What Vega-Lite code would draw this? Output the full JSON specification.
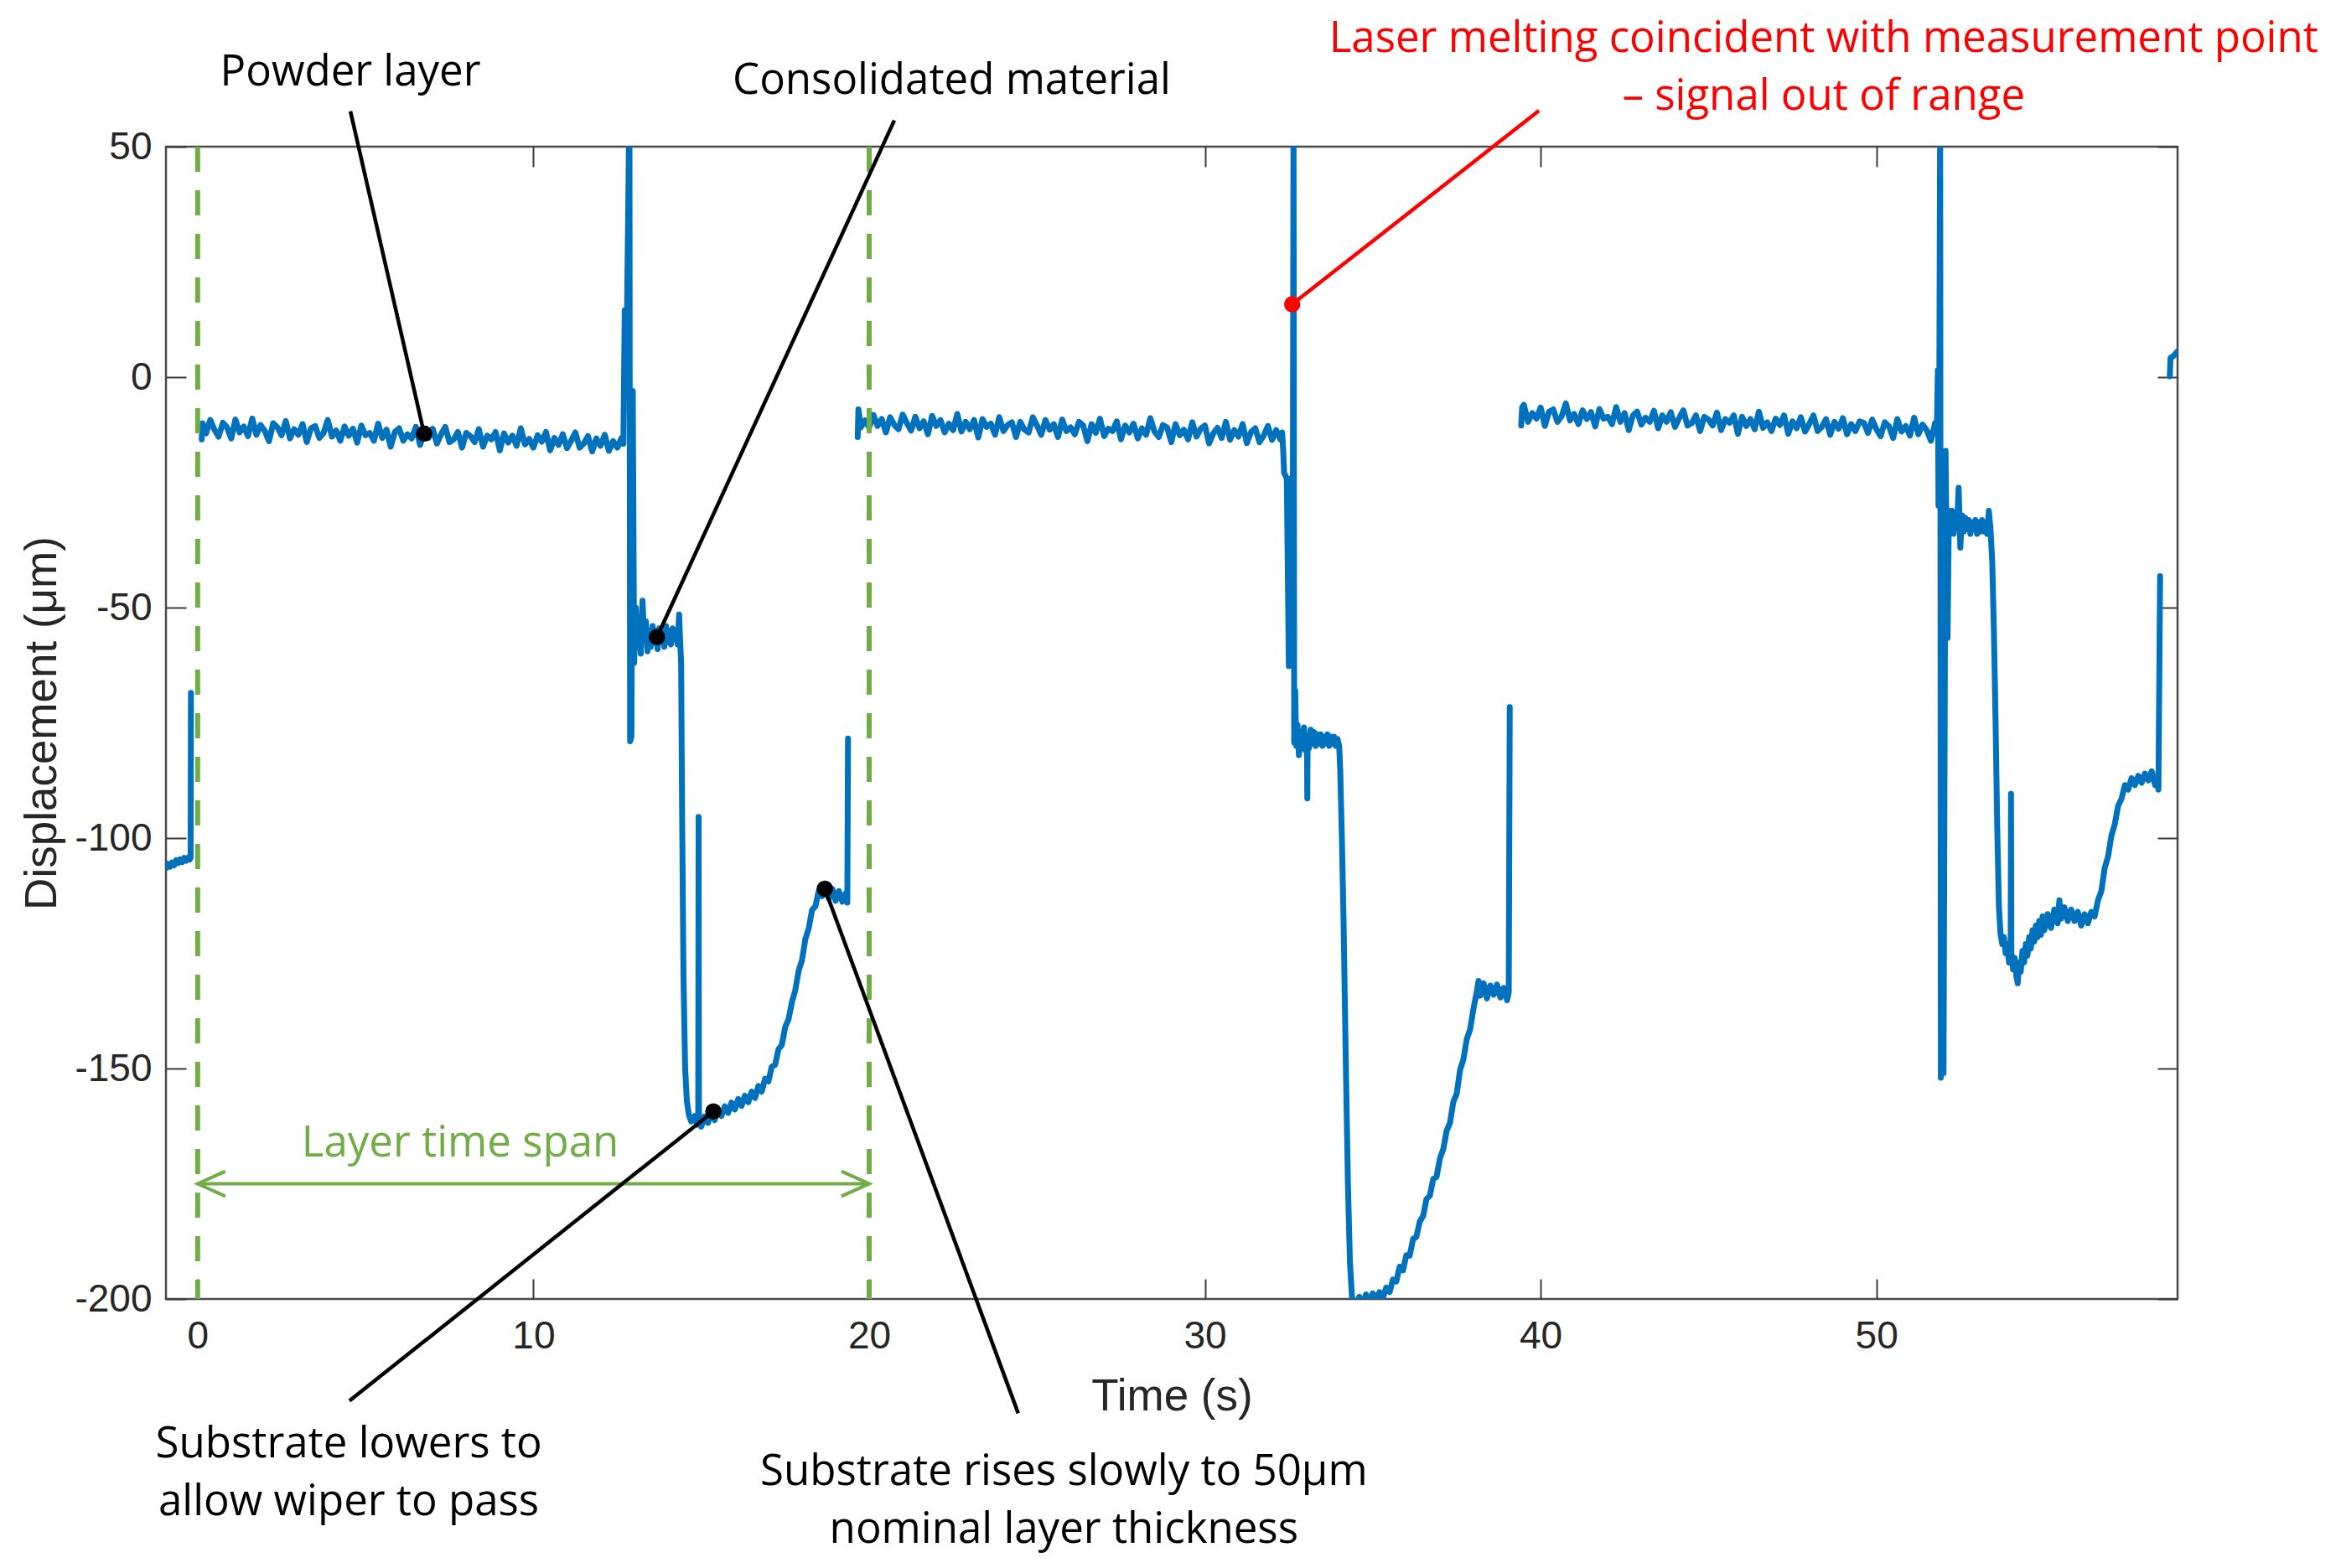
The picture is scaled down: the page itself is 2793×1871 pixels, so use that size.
{
"$schema":"https://vega.github.io/schema/vega-lite/v6.json",
"width":2400,"height":1375,
"autosize":{"type":"none"},
"padding":{"left":198,"top":175,"right":195,"bottom":321},
"background":"white",
"config":{"view":{"stroke":"#4a4a4a","strokeWidth":2.5},
"axis":{"grid":false,"domain":false,"tickSize":-24,"tickWidth":2,"tickColor":"#3a3a3a","labelFont":"Liberation Sans","labelFontSize":46,"labelColor":"#262626","titleFont":"Liberation Sans","titleFontSize":53,"titleFontWeight":"normal","titleColor":"#262626","labelOverlap":false,"labelFlush":false}},
"datasets":{
"sig":[
{"s":0,"t":-0.94,"y":-106.5},{"s":0,"t":-0.88,"y":-105.6},{"s":0,"t":-0.82,"y":-106.2},{"s":0,"t":-0.76,"y":-105.3},{"s":0,"t":-0.7,"y":-105.9},{"s":0,"t":-0.64,"y":-104.8},{"s":0,"t":-0.58,"y":-105.4},{"s":0,"t":-0.52,"y":-104.6},{"s":0,"t":-0.46,"y":-105.2},{"s":0,"t":-0.4,"y":-104.3},{"s":0,"t":-0.34,"y":-104.9},{"s":0,"t":-0.28,"y":-104.2},{"s":0,"t":-0.24,"y":-104.7},{"s":0,"t":-0.21,"y":-104.3},{"s":0,"t":-0.2,"y":-68.5},
{"s":1,"t":0.12,"y":-13.5},{"s":1,"t":0.15,"y":-10.0},{"s":1,"t":0.25,"y":-12.2},{"s":1,"t":0.375,"y":-9.3},{"s":1,"t":0.5,"y":-11.4},{"s":1,"t":0.625,"y":-12.9},{"s":1,"t":0.75,"y":-9.9},{"s":1,"t":0.875,"y":-10.9},{"s":1,"t":1.0,"y":-13.3},{"s":1,"t":1.125,"y":-9.2},{"s":1,"t":1.25,"y":-12.0},{"s":1,"t":1.375,"y":-10.7},{"s":1,"t":1.5,"y":-12.8},{"s":1,"t":1.625,"y":-9.0},{"s":1,"t":1.75,"y":-12.5},{"s":1,"t":1.875,"y":-10.4},{"s":1,"t":2.0,"y":-11.7},{"s":1,"t":2.125,"y":-13.9},{"s":1,"t":2.25,"y":-10.0},{"s":1,"t":2.375,"y":-10.9},{"s":1,"t":2.5,"y":-12.6},{"s":1,"t":2.625,"y":-9.5},{"s":1,"t":2.75,"y":-13.3},{"s":1,"t":2.875,"y":-11.3},{"s":1,"t":3.0,"y":-12.5},{"s":1,"t":3.125,"y":-10.2},{"s":1,"t":3.25,"y":-14.1},{"s":1,"t":3.375,"y":-11.1},{"s":1,"t":3.5,"y":-10.6},{"s":1,"t":3.625,"y":-13.2},{"s":1,"t":3.75,"y":-12.1},{"s":1,"t":3.875,"y":-9.3},{"s":1,"t":4.0,"y":-12.9},{"s":1,"t":4.125,"y":-11.6},{"s":1,"t":4.25,"y":-13.8},{"s":1,"t":4.375,"y":-10.7},{"s":1,"t":4.5,"y":-12.7},{"s":1,"t":4.625,"y":-11.2},{"s":1,"t":4.75,"y":-14.2},{"s":1,"t":4.875,"y":-10.5},{"s":1,"t":5.0,"y":-12.6},{"s":1,"t":5.125,"y":-12.1},{"s":1,"t":5.25,"y":-13.8},{"s":1,"t":5.375,"y":-10.1},{"s":1,"t":5.5,"y":-13.2},{"s":1,"t":5.625,"y":-11.4},{"s":1,"t":5.75,"y":-15.1},{"s":1,"t":5.875,"y":-11.9},{"s":1,"t":6.0,"y":-11.1},{"s":1,"t":6.125,"y":-13.8},{"s":1,"t":6.25,"y":-12.4},{"s":1,"t":6.375,"y":-13.3},{"s":1,"t":6.5,"y":-10.8},{"s":1,"t":6.625,"y":-14.7},{"s":1,"t":6.75,"y":-11.9},{"s":1,"t":6.875,"y":-13.2},{"s":1,"t":7.0,"y":-11.2},{"s":1,"t":7.125,"y":-14.4},{"s":1,"t":7.25,"y":-12.4},{"s":1,"t":7.375,"y":-10.8},{"s":1,"t":7.5,"y":-14.1},{"s":1,"t":7.625,"y":-13.5},{"s":1,"t":7.75,"y":-11.9},{"s":1,"t":7.875,"y":-15.3},{"s":1,"t":8.0,"y":-12.1},{"s":1,"t":8.125,"y":-12.8},{"s":1,"t":8.25,"y":-14.1},{"s":1,"t":8.375,"y":-11.3},{"s":1,"t":8.5,"y":-15.1},{"s":1,"t":8.625,"y":-12.7},{"s":1,"t":8.75,"y":-13.5},{"s":1,"t":8.875,"y":-11.9},{"s":1,"t":9.0,"y":-15.9},{"s":1,"t":9.125,"y":-12.2},{"s":1,"t":9.25,"y":-14.2},{"s":1,"t":9.375,"y":-12.7},{"s":1,"t":9.5,"y":-14.9},{"s":1,"t":9.625,"y":-11.1},{"s":1,"t":9.75,"y":-14.6},{"s":1,"t":9.875,"y":-13.4},{"s":1,"t":10.0,"y":-15.3},{"s":1,"t":10.125,"y":-12.6},{"s":1,"t":10.25,"y":-14.0},{"s":1,"t":10.375,"y":-11.9},{"s":1,"t":10.5,"y":-15.9},{"s":1,"t":10.625,"y":-13.2},{"s":1,"t":10.75,"y":-14.7},{"s":1,"t":10.875,"y":-12.4},{"s":1,"t":11.0,"y":-15.4},{"s":1,"t":11.125,"y":-13.8},{"s":1,"t":11.25,"y":-12.0},{"s":1,"t":11.375,"y":-15.3},{"s":1,"t":11.5,"y":-14.4},{"s":1,"t":11.625,"y":-12.8},{"s":1,"t":11.75,"y":-16.1},{"s":1,"t":11.875,"y":-13.3},{"s":1,"t":12.0,"y":-14.9},{"s":1,"t":12.125,"y":-12.5},{"s":1,"t":12.25,"y":-16.0},{"s":1,"t":12.375,"y":-13.9},{"s":1,"t":12.5,"y":-15.3},{"s":1,"t":12.625,"y":-13.2},
{"s":1,"t":12.68,"y":-14.5},{"s":1,"t":12.72,"y":14.5},{"s":1,"t":12.78,"y":8.5},{"s":1,"t":12.86,"y":60},{"s":1,"t":12.88,"y":-79},{"s":1,"t":12.92,"y":-78},{"s":1,"t":12.96,"y":-3},{"s":1,"t":13.0,"y":-62},{"s":1,"t":13.05,"y":-50},{"s":1,"t":13.1,"y":-58},{"s":1,"t":13.15,"y":-54},{"s":1,"t":13.2,"y":-60},{"s":1,"t":13.25,"y":-48.5},{"s":1,"t":13.3,"y":-57},{"s":1,"t":13.35,"y":-53},{"s":1,"t":13.4,"y":-59.5},{"s":1,"t":13.45,"y":-55},{"s":1,"t":13.5,"y":-58.5},{"s":1,"t":13.55,"y":-54},{"s":1,"t":13.6,"y":-57.5},{"s":1,"t":13.65,"y":-55},{"s":1,"t":13.7,"y":-59},{"s":1,"t":13.75,"y":-54.5},{"s":1,"t":13.8,"y":-57},{"s":1,"t":13.85,"y":-55.5},{"s":1,"t":13.9,"y":-58.5},{"s":1,"t":13.95,"y":-54},{"s":1,"t":14.0,"y":-57.5},{"s":1,"t":14.05,"y":-55},{"s":1,"t":14.1,"y":-58},{"s":1,"t":14.15,"y":-54.5},{"s":1,"t":14.2,"y":-57},{"s":1,"t":14.25,"y":-55},{"s":1,"t":14.3,"y":-58},{"s":1,"t":14.34,"y":-51.5},{"s":1,"t":14.37,"y":-57},{"s":1,"t":14.4,"y":-62},{"s":1,"t":14.43,"y":-95},{"s":1,"t":14.47,"y":-130},{"s":1,"t":14.52,"y":-150},{"s":1,"t":14.57,"y":-157},{"s":1,"t":14.63,"y":-160},{"s":1,"t":14.7,"y":-161.5},{"s":1,"t":14.8,"y":-160.3},{"s":1,"t":14.88,"y":-162.2},{"s":1,"t":14.91,"y":-160.5},{"s":1,"t":14.92,"y":-95.4},{"s":1,"t":14.93,"y":-160},{"s":1,"t":15.0,"y":-162.6},{"s":1,"t":15.1,"y":-160.4},{"s":1,"t":15.2,"y":-161.8},{"s":1,"t":15.3,"y":-159.6},{"s":1,"t":15.4,"y":-161.2},{"s":1,"t":15.5,"y":-158.8},{"s":1,"t":15.6,"y":-160.3},{"s":1,"t":15.7,"y":-158.2},{"s":1,"t":15.8,"y":-159.6},{"s":1,"t":15.9,"y":-157.4},{"s":1,"t":16.0,"y":-158.9},{"s":1,"t":16.1,"y":-156.6},{"s":1,"t":16.2,"y":-158.1},{"s":1,"t":16.3,"y":-155.9},{"s":1,"t":16.4,"y":-157.3},{"s":1,"t":16.5,"y":-155.0},{"s":1,"t":16.6,"y":-156.4},{"s":1,"t":16.7,"y":-153.8},{"s":1,"t":16.8,"y":-155.0},{"s":1,"t":16.9,"y":-152.2},{"s":1,"t":17.0,"y":-152.8},{"s":1,"t":17.1,"y":-149.6},{"s":1,"t":17.2,"y":-149.2},{"s":1,"t":17.3,"y":-145.8},{"s":1,"t":17.4,"y":-144.9},{"s":1,"t":17.5,"y":-141.0},{"s":1,"t":17.6,"y":-139.3},{"s":1,"t":17.7,"y":-135.6},{"s":1,"t":17.8,"y":-133.0},{"s":1,"t":17.9,"y":-128.8},{"s":1,"t":18.0,"y":-126.5},{"s":1,"t":18.1,"y":-121.9},{"s":1,"t":18.2,"y":-119.6},{"s":1,"t":18.3,"y":-115.6},{"s":1,"t":18.4,"y":-114.8},{"s":1,"t":18.5,"y":-111.4},{"s":1,"t":18.6,"y":-112.6},{"s":1,"t":18.7,"y":-110.8},{"s":1,"t":18.8,"y":-113.2},{"s":1,"t":18.9,"y":-111.0},{"s":1,"t":19.0,"y":-113.6},{"s":1,"t":19.1,"y":-111.5},{"s":1,"t":19.2,"y":-113.8},{"s":1,"t":19.3,"y":-112.0},{"s":1,"t":19.35,"y":-114},{"s":1,"t":19.37,"y":-78.4},
{"s":2,"t":19.66,"y":-13},{"s":2,"t":19.68,"y":-7},{"s":2,"t":19.75,"y":-10.9},{"s":2,"t":19.875,"y":-9.4},{"s":2,"t":20.0,"y":-10.9},{"s":2,"t":20.125,"y":-8.2},{"s":2,"t":20.25,"y":-10.6},{"s":2,"t":20.375,"y":-9.1},{"s":2,"t":20.5,"y":-12.0},{"s":2,"t":20.625,"y":-8.7},{"s":2,"t":20.75,"y":-10.4},{"s":2,"t":20.875,"y":-11.3},{"s":2,"t":21.0,"y":-8.1},{"s":2,"t":21.125,"y":-10.0},{"s":2,"t":21.25,"y":-11.6},{"s":2,"t":21.375,"y":-8.6},{"s":2,"t":21.5,"y":-11.1},{"s":2,"t":21.625,"y":-9.6},{"s":2,"t":21.75,"y":-12.4},{"s":2,"t":21.875,"y":-8.4},{"s":2,"t":22.0,"y":-10.6},{"s":2,"t":22.125,"y":-9.3},{"s":2,"t":22.25,"y":-12.0},{"s":2,"t":22.375,"y":-10.1},{"s":2,"t":22.5,"y":-11.5},{"s":2,"t":22.625,"y":-8.0},{"s":2,"t":22.75,"y":-11.8},{"s":2,"t":22.875,"y":-9.7},{"s":2,"t":23.0,"y":-11.3},{"s":2,"t":23.125,"y":-9.3},{"s":2,"t":23.25,"y":-13.1},{"s":2,"t":23.375,"y":-9.1},{"s":2,"t":23.5,"y":-10.8},{"s":2,"t":23.625,"y":-10.1},{"s":2,"t":23.75,"y":-12.5},{"s":2,"t":23.875,"y":-8.7},{"s":2,"t":24.0,"y":-11.7},{"s":2,"t":24.125,"y":-10.4},{"s":2,"t":24.25,"y":-9.8},{"s":2,"t":24.375,"y":-13.0},{"s":2,"t":24.5,"y":-9.7},{"s":2,"t":24.625,"y":-11.4},{"s":2,"t":24.75,"y":-12.0},{"s":2,"t":24.875,"y":-8.7},{"s":2,"t":25.0,"y":-10.5},{"s":2,"t":25.125,"y":-12.5},{"s":2,"t":25.25,"y":-9.3},{"s":2,"t":25.375,"y":-11.4},{"s":2,"t":25.5,"y":-10.2},{"s":2,"t":25.625,"y":-13.0},{"s":2,"t":25.75,"y":-9.2},{"s":2,"t":25.875,"y":-11.7},{"s":2,"t":26.0,"y":-10.9},{"s":2,"t":26.125,"y":-12.4},{"s":2,"t":26.25,"y":-9.7},{"s":2,"t":26.375,"y":-10.5},{"s":2,"t":26.5,"y":-13.9},{"s":2,"t":26.625,"y":-10.2},{"s":2,"t":26.75,"y":-12.1},{"s":2,"t":26.875,"y":-9.0},{"s":2,"t":27.0,"y":-12.8},{"s":2,"t":27.125,"y":-11.2},{"s":2,"t":27.25,"y":-11.7},{"s":2,"t":27.375,"y":-9.6},{"s":2,"t":27.5,"y":-13.5},{"s":2,"t":27.625,"y":-10.5},{"s":2,"t":27.75,"y":-12.0},{"s":2,"t":27.875,"y":-10.1},{"s":2,"t":28.0,"y":-13.3},{"s":2,"t":28.125,"y":-11.1},{"s":2,"t":28.25,"y":-12.5},{"s":2,"t":28.375,"y":-8.9},{"s":2,"t":28.5,"y":-11.8},{"s":2,"t":28.625,"y":-13.0},{"s":2,"t":28.75,"y":-10.4},{"s":2,"t":28.875,"y":-10.9},{"s":2,"t":29.0,"y":-14.1},{"s":2,"t":29.125,"y":-10.2},{"s":2,"t":29.25,"y":-12.6},{"s":2,"t":29.375,"y":-11.4},{"s":2,"t":29.5,"y":-13.5},{"s":2,"t":29.625,"y":-9.8},{"s":2,"t":29.75,"y":-12.9},{"s":2,"t":29.875,"y":-11.2},{"s":2,"t":30.0,"y":-10.5},{"s":2,"t":30.125,"y":-14.4},{"s":2,"t":30.25,"y":-12.2},{"s":2,"t":30.375,"y":-11.0},{"s":2,"t":30.5,"y":-13.2},{"s":2,"t":30.625,"y":-9.7},{"s":2,"t":30.75,"y":-13.6},{"s":2,"t":30.875,"y":-11.5},{"s":2,"t":31.0,"y":-12.9},{"s":2,"t":31.125,"y":-10.2},{"s":2,"t":31.25,"y":-14.3},{"s":2,"t":31.375,"y":-11.9},{"s":2,"t":31.5,"y":-11.1},{"s":2,"t":31.625,"y":-14.1},{"s":2,"t":31.75,"y":-12.7},{"s":2,"t":31.875,"y":-10.6},{"s":2,"t":32.0,"y":-13.6},{"s":2,"t":32.125,"y":-11.5},{"s":2,"t":32.25,"y":-13.5},
{"s":2,"t":32.3,"y":-12.0},{"s":2,"t":32.33,"y":-15.5},{"s":2,"t":32.36,"y":-20.8},{"s":2,"t":32.44,"y":-22},{"s":2,"t":32.5,"y":-62.7},{"s":2,"t":32.56,"y":-22},{"s":2,"t":32.62,"y":-25},{"s":2,"t":32.64,"y":60},{"s":2,"t":32.66,"y":-79.3},{"s":2,"t":32.69,"y":-68},{"s":2,"t":32.72,"y":-80},{"s":2,"t":32.76,"y":-75.5},{"s":2,"t":32.8,"y":-82},{"s":2,"t":32.85,"y":-77},{"s":2,"t":32.9,"y":-80.5},{"s":2,"t":32.95,"y":-76},{"s":2,"t":33.0,"y":-81},{"s":2,"t":33.04,"y":-78},{"s":2,"t":33.05,"y":-91.4},{"s":2,"t":33.06,"y":-78},{"s":2,"t":33.1,"y":-80.5},{"s":2,"t":33.15,"y":-76.5},{"s":2,"t":33.2,"y":-79.5},{"s":2,"t":33.25,"y":-77},{"s":2,"t":33.3,"y":-80},{"s":2,"t":33.35,"y":-77.5},{"s":2,"t":33.4,"y":-79.5},{"s":2,"t":33.45,"y":-77.5},{"s":2,"t":33.5,"y":-80},{"s":2,"t":33.55,"y":-78},{"s":2,"t":33.6,"y":-79.5},{"s":2,"t":33.65,"y":-77.5},{"s":2,"t":33.7,"y":-80},{"s":2,"t":33.75,"y":-78},{"s":2,"t":33.8,"y":-79.5},{"s":2,"t":33.85,"y":-78},{"s":2,"t":33.9,"y":-80},{"s":2,"t":33.95,"y":-78.5},{"s":2,"t":34.0,"y":-80},{"s":2,"t":34.03,"y":-85},{"s":2,"t":34.08,"y":-100},{"s":2,"t":34.13,"y":-118},{"s":2,"t":34.2,"y":-150},{"s":2,"t":34.26,"y":-175},{"s":2,"t":34.32,"y":-192},{"s":2,"t":34.38,"y":-199.5},{"s":2,"t":34.45,"y":-201},{"s":2,"t":34.5,"y":-202},{"s":2,"t":34.6,"y":-199.5},{"s":2,"t":34.7,"y":-201.5},{"s":2,"t":34.8,"y":-199},{"s":2,"t":34.9,"y":-201},{"s":2,"t":35.0,"y":-198.8},{"s":2,"t":35.1,"y":-200.5},{"s":2,"t":35.2,"y":-198.5},{"s":2,"t":35.3,"y":-199.8},{"s":2,"t":35.4,"y":-197.5},{"s":2,"t":35.5,"y":-198.5},{"s":2,"t":35.6,"y":-195.8},{"s":2,"t":35.7,"y":-196.2},{"s":2,"t":35.8,"y":-193},{"s":2,"t":35.9,"y":-193.8},{"s":2,"t":36.0,"y":-190.5},{"s":2,"t":36.1,"y":-190.6},{"s":2,"t":36.2,"y":-187},{"s":2,"t":36.3,"y":-186.5},{"s":2,"t":36.4,"y":-183.2},{"s":2,"t":36.5,"y":-182},{"s":2,"t":36.6,"y":-178.3},{"s":2,"t":36.7,"y":-177.6},{"s":2,"t":36.8,"y":-174},{"s":2,"t":36.9,"y":-173.5},{"s":2,"t":37.0,"y":-169.5},{"s":2,"t":37.1,"y":-167.5},{"s":2,"t":37.2,"y":-163.5},{"s":2,"t":37.3,"y":-161.8},{"s":2,"t":37.4,"y":-157.2},{"s":2,"t":37.5,"y":-155.5},{"s":2,"t":37.6,"y":-150.3},{"s":2,"t":37.7,"y":-148},{"s":2,"t":37.8,"y":-143.6},{"s":2,"t":37.9,"y":-141.5},{"s":2,"t":38.0,"y":-137},{"s":2,"t":38.1,"y":-133.2},{"s":2,"t":38.15,"y":-131},{"s":2,"t":38.2,"y":-134.2},{"s":2,"t":38.3,"y":-131.5},{"s":2,"t":38.4,"y":-134.8},{"s":2,"t":38.5,"y":-132},{"s":2,"t":38.6,"y":-134},{"s":2,"t":38.7,"y":-131.8},{"s":2,"t":38.8,"y":-134.6},{"s":2,"t":38.9,"y":-132.5},{"s":2,"t":39.0,"y":-135.2},{"s":2,"t":39.05,"y":-133.5},{"s":2,"t":39.08,"y":-71.6},
{"s":3,"t":39.42,"y":-10.5},{"s":3,"t":39.45,"y":-6.5},{"s":3,"t":39.5,"y":-6.0},{"s":3,"t":39.625,"y":-9.7},{"s":3,"t":39.75,"y":-7.8},{"s":3,"t":39.875,"y":-9.0},{"s":3,"t":40.0,"y":-6.6},{"s":3,"t":40.125,"y":-10.6},{"s":3,"t":40.25,"y":-7.5},{"s":3,"t":40.375,"y":-7.0},{"s":3,"t":40.5,"y":-9.7},{"s":3,"t":40.625,"y":-8.5},{"s":3,"t":40.75,"y":-5.7},{"s":3,"t":40.875,"y":-9.4},{"s":3,"t":41.0,"y":-8.0},{"s":3,"t":41.125,"y":-10.2},{"s":3,"t":41.25,"y":-7.2},{"s":3,"t":41.375,"y":-9.1},{"s":3,"t":41.5,"y":-7.6},{"s":3,"t":41.625,"y":-10.7},{"s":3,"t":41.75,"y":-6.9},{"s":3,"t":41.875,"y":-9.0},{"s":3,"t":42.0,"y":-8.6},{"s":3,"t":42.125,"y":-10.2},{"s":3,"t":42.25,"y":-6.5},{"s":3,"t":42.375,"y":-9.7},{"s":3,"t":42.5,"y":-7.8},{"s":3,"t":42.625,"y":-11.5},{"s":3,"t":42.75,"y":-8.3},{"s":3,"t":42.875,"y":-7.5},{"s":3,"t":43.0,"y":-10.3},{"s":3,"t":43.125,"y":-8.8},{"s":3,"t":43.25,"y":-9.7},{"s":3,"t":43.375,"y":-7.3},{"s":3,"t":43.5,"y":-11.1},{"s":3,"t":43.625,"y":-8.3},{"s":3,"t":43.75,"y":-9.7},{"s":3,"t":43.875,"y":-7.6},{"s":3,"t":44.0,"y":-10.8},{"s":3,"t":44.125,"y":-8.9},{"s":3,"t":44.25,"y":-7.2},{"s":3,"t":44.375,"y":-10.5},{"s":3,"t":44.5,"y":-10.0},{"s":3,"t":44.625,"y":-8.3},{"s":3,"t":44.75,"y":-11.7},{"s":3,"t":44.875,"y":-8.6},{"s":3,"t":45.0,"y":-9.2},{"s":3,"t":45.125,"y":-10.5},{"s":3,"t":45.25,"y":-7.7},{"s":3,"t":45.375,"y":-11.5},{"s":3,"t":45.5,"y":-9.1},{"s":3,"t":45.625,"y":-9.9},{"s":3,"t":45.75,"y":-8.3},{"s":3,"t":45.875,"y":-12.3},{"s":3,"t":46.0,"y":-8.6},{"s":3,"t":46.125,"y":-10.6},{"s":3,"t":46.25,"y":-9.1},{"s":3,"t":46.375,"y":-11.3},{"s":3,"t":46.5,"y":-7.5},{"s":3,"t":46.625,"y":-11.0},{"s":3,"t":46.75,"y":-9.8},{"s":3,"t":46.875,"y":-11.7},{"s":3,"t":47.0,"y":-9.0},{"s":3,"t":47.125,"y":-10.4},{"s":3,"t":47.25,"y":-8.3},{"s":3,"t":47.375,"y":-12.3},{"s":3,"t":47.5,"y":-9.6},{"s":3,"t":47.625,"y":-11.1},{"s":3,"t":47.75,"y":-8.7},{"s":3,"t":47.875,"y":-11.8},{"s":3,"t":48.0,"y":-10.2},{"s":3,"t":48.125,"y":-8.3},{"s":3,"t":48.25,"y":-11.7},{"s":3,"t":48.375,"y":-10.8},{"s":3,"t":48.5,"y":-9.1},{"s":3,"t":48.625,"y":-12.5},{"s":3,"t":48.75,"y":-9.7},{"s":3,"t":48.875,"y":-11.2},{"s":3,"t":49.0,"y":-8.9},{"s":3,"t":49.125,"y":-12.4},{"s":3,"t":49.25,"y":-10.2},{"s":3,"t":49.375,"y":-11.7},{"s":3,"t":49.5,"y":-9.6},{"s":3,"t":49.625,"y":-9.9},{"s":3,"t":49.75,"y":-12.1},{"s":3,"t":49.875,"y":-9.2},{"s":3,"t":50.0,"y":-11.3},{"s":3,"t":50.125,"y":-12.8},{"s":3,"t":50.25,"y":-9.8},{"s":3,"t":50.375,"y":-10.7},{"s":3,"t":50.5,"y":-13.2},{"s":3,"t":50.625,"y":-9.1},{"s":3,"t":50.75,"y":-11.8},{"s":3,"t":50.875,"y":-10.6},{"s":3,"t":51.0,"y":-12.7},{"s":3,"t":51.125,"y":-8.8},{"s":3,"t":51.25,"y":-12.4},{"s":3,"t":51.375,"y":-10.3},{"s":3,"t":51.5,"y":-11.5},{"s":3,"t":51.625,"y":-13.8},{"s":3,"t":51.75,"y":-9.9},
{"s":3,"t":51.8,"y":-11.5},{"s":3,"t":51.83,"y":1.5},{"s":3,"t":51.85,"y":-27.9},{"s":3,"t":51.87,"y":-12},{"s":3,"t":51.9,"y":60},{"s":3,"t":51.92,"y":-152},{"s":3,"t":51.96,"y":-135},{"s":3,"t":52.0,"y":-151},{"s":3,"t":52.06,"y":-16},{"s":3,"t":52.12,"y":-56.6},{"s":3,"t":52.16,"y":-29},{"s":3,"t":52.2,"y":-33},{"s":3,"t":52.25,"y":-29},{"s":3,"t":52.3,"y":-34},{"s":3,"t":52.35,"y":-30},{"s":3,"t":52.4,"y":-32.5},{"s":3,"t":52.45,"y":-24},{"s":3,"t":52.5,"y":-37},{"s":3,"t":52.55,"y":-30},{"s":3,"t":52.6,"y":-33.5},{"s":3,"t":52.65,"y":-30.5},{"s":3,"t":52.7,"y":-33},{"s":3,"t":52.75,"y":-31},{"s":3,"t":52.8,"y":-34},{"s":3,"t":52.85,"y":-31.5},{"s":3,"t":52.9,"y":-33},{"s":3,"t":52.95,"y":-31},{"s":3,"t":53.0,"y":-34},{"s":3,"t":53.05,"y":-31.5},{"s":3,"t":53.1,"y":-33.5},{"s":3,"t":53.15,"y":-31},{"s":3,"t":53.2,"y":-33.5},{"s":3,"t":53.25,"y":-32},{"s":3,"t":53.3,"y":-34},{"s":3,"t":53.35,"y":-29},{"s":3,"t":53.4,"y":-33},{"s":3,"t":53.45,"y":-40},{"s":3,"t":53.5,"y":-55},{"s":3,"t":53.55,"y":-75},{"s":3,"t":53.6,"y":-98},{"s":3,"t":53.65,"y":-115},{"s":3,"t":53.7,"y":-121},{"s":3,"t":53.75,"y":-123},{"s":3,"t":53.8,"y":-121.5},{"s":3,"t":53.85,"y":-125},{"s":3,"t":53.9,"y":-123},{"s":3,"t":53.95,"y":-127},{"s":3,"t":54.0,"y":-124.5},{"s":3,"t":54.01,"y":-90.4},{"s":3,"t":54.02,"y":-125},{"s":3,"t":54.07,"y":-128.5},{"s":3,"t":54.12,"y":-126},{"s":3,"t":54.17,"y":-130},{"s":3,"t":54.21,"y":-131.5},{"s":3,"t":54.25,"y":-127},{"s":3,"t":54.3,"y":-129},{"s":3,"t":54.35,"y":-124.5},{"s":3,"t":54.4,"y":-127},{"s":3,"t":54.45,"y":-123},{"s":3,"t":54.5,"y":-125.5},{"s":3,"t":54.55,"y":-121.5},{"s":3,"t":54.6,"y":-124},{"s":3,"t":54.65,"y":-120},{"s":3,"t":54.7,"y":-122.5},{"s":3,"t":54.75,"y":-119},{"s":3,"t":54.8,"y":-121.5},{"s":3,"t":54.85,"y":-118},{"s":3,"t":54.9,"y":-121},{"s":3,"t":54.95,"y":-117},{"s":3,"t":55.0,"y":-120},{"s":3,"t":55.1,"y":-116.5},{"s":3,"t":55.2,"y":-119.5},{"s":3,"t":55.3,"y":-115.5},{"s":3,"t":55.4,"y":-118.5},{"s":3,"t":55.45,"y":-113.5},{"s":3,"t":55.5,"y":-117.5},{"s":3,"t":55.6,"y":-115},{"s":3,"t":55.7,"y":-118},{"s":3,"t":55.8,"y":-115.5},{"s":3,"t":55.9,"y":-118},{"s":3,"t":56.0,"y":-116},{"s":3,"t":56.1,"y":-119},{"s":3,"t":56.2,"y":-116.5},{"s":3,"t":56.3,"y":-118.5},{"s":3,"t":56.4,"y":-116},{"s":3,"t":56.5,"y":-117},{"s":3,"t":56.6,"y":-113.5},{"s":3,"t":56.7,"y":-111.5},{"s":3,"t":56.8,"y":-106.5},{"s":3,"t":56.9,"y":-104},{"s":3,"t":57.0,"y":-99.5},{"s":3,"t":57.1,"y":-97},{"s":3,"t":57.2,"y":-93},{"s":3,"t":57.3,"y":-91.5},{"s":3,"t":57.4,"y":-88.5},{"s":3,"t":57.5,"y":-89.5},{"s":3,"t":57.6,"y":-87},{"s":3,"t":57.7,"y":-88.5},{"s":3,"t":57.8,"y":-86.5},{"s":3,"t":57.9,"y":-88},{"s":3,"t":58.0,"y":-86},{"s":3,"t":58.1,"y":-87.5},{"s":3,"t":58.2,"y":-85.5},{"s":3,"t":58.3,"y":-88.5},{"s":3,"t":58.35,"y":-87},{"s":3,"t":58.4,"y":-89.5},{"s":3,"t":58.45,"y":-43.2},
{"s":4,"t":58.74,"y":0.2},{"s":4,"t":58.76,"y":4.2},{"s":4,"t":58.85,"y":4.6},{"s":4,"t":58.97,"y":5.6}
],
"vl":[{"t":0},{"t":20}],
"arrow":[{"a":0,"b":20,"y":-175}],
"co":[
{"x1":4.55,"y1":57.7,"x2":6.745,"y2":-12.25,"c":"note"},
{"x1":20.75,"y1":55.7,"x2":13.68,"y2":-56.4,"c":"note"},
{"x1":4.52,"y1":-222.1,"x2":15.36,"y2":-159.3,"c":"note"},
{"x1":24.44,"y1":-224.8,"x2":18.68,"y2":-111.0,"c":"note"},
{"x1":39.95,"y1":57.8,"x2":32.6,"y2":15.8,"c":"laser"}
],
"notes":[
{"label":"Powder layer","x":4.55,"y":63.2,"c":"note"},
{"label":"Consolidated material","x":22.46,"y":61.4,"c":"note"},
{"label":"Laser melting coincident with measurement point\n– signal out of range","x":48.43,"y":70.6,"c":"laser"},
{"label":"Layer time span","x":7.82,"y":-169.1,"c":"span"},
{"label":"Substrate lowers to\nallow wiper to pass","x":4.5,"y":-234.4,"c":"note"},
{"label":"Substrate rises slowly to 50µm\nnominal layer thickness","x":25.8,"y":-240.3,"c":"note"}
]
},
"layer":[
{"data":{"name":"sig"},
 "mark":{"type":"line","color":"#0072BD","strokeWidth":7,"strokeJoin":"round","strokeCap":"round","clip":true},
 "encoding":{
  "x":{"field":"t","type":"quantitative","scale":{"domain":[-0.944,58.97],"nice":false,"zero":false},
   "axis":{"orient":"bottom","values":[0,10,20,30,40,50],"labelPadding":46,"labelExpr":"datum.value < 0 ? '-' + format(-datum.value, 'd') : format(datum.value, 'd')","title":"Time (s)","titleX":1200,"titleY":132,"titleAlign":"center","titleBaseline":"alphabetic"}},
  "y":{"field":"y","type":"quantitative","scale":{"domain":[-200,50],"nice":false,"zero":false},
   "axis":{"orient":"left","values":[-200,-150,-100,-50,0,50],"labelPadding":41,"labelBaseline":"middle","labelExpr":"datum.value < 0 ? '-' + format(-datum.value, 'd') : format(datum.value, 'd')","title":"Displacement (μm)","titleX":-148,"titleY":687.5,"titleAngle":-90,"titleAlign":"center","titleBaseline":"middle"}},
  "detail":{"field":"s","type":"nominal"}
 }},
{"data":{"name":"vl"},
 "mark":{"type":"rule","color":"#70AD47","strokeWidth":6,"strokeDash":[30,22]},
 "encoding":{"x":{"field":"t","type":"quantitative","scale":{"domain":[-0.944,58.97],"nice":false,"zero":false},"axis":null}}},
{"data":{"name":"arrow"},
 "mark":{"type":"rule","color":"#70AD47","strokeWidth":4},
 "encoding":{
  "x":{"field":"a","type":"quantitative","scale":{"domain":[-0.944,58.97],"nice":false,"zero":false},
   "axis":{"orient":"top","values":[0,10,20,30,40,50],"labels":false,"title":null}},
  "x2":{"field":"b"},
  "y":{"field":"y","type":"quantitative","scale":{"domain":[-200,50],"nice":false,"zero":false},
   "axis":{"orient":"right","values":[-200,-150,-100,-50,0,50],"labels":false,"title":null}}}},
{"data":{"name":"arrow"},
 "mark":{"type":"point","shape":"M 2 -0.9 L 0 0 L 2 0.9","filled":false,"stroke":"#70AD47","strokeWidth":4,"size":1089,"opacity":1},
 "encoding":{"x":{"field":"a","type":"quantitative","axis":null},"y":{"field":"y","type":"quantitative","axis":null}}},
{"data":{"name":"arrow"},
 "mark":{"type":"point","shape":"M -2 -0.9 L 0 0 L -2 0.9","filled":false,"stroke":"#70AD47","strokeWidth":4,"size":1089,"opacity":1},
 "encoding":{"x":{"field":"b","type":"quantitative","axis":null},"y":{"field":"y","type":"quantitative","axis":null}}},
{"data":{"name":"co"},
 "mark":{"type":"rule","strokeWidth":4.5,"clip":false},
 "encoding":{
  "x":{"field":"x1","type":"quantitative","axis":null},"y":{"field":"y1","type":"quantitative","axis":null},
  "x2":{"field":"x2"},"y2":{"field":"y2"},
  "color":{"field":"c","type":"nominal","scale":{"domain":["note","laser","span"],"range":["#000000","#FF0000","#70AD47"]},"legend":null}}},
{"data":{"name":"co"},
 "mark":{"type":"point","filled":true,"shape":"circle","size":380,"opacity":1,"clip":false},
 "encoding":{
  "x":{"field":"x2","type":"quantitative","axis":null},"y":{"field":"y2","type":"quantitative","axis":null},
  "color":{"field":"c","type":"nominal","legend":null}}},
{"data":{"name":"notes"},
 "mark":{"type":"text","font":"Open Sans","fontSize":51,"align":"center","baseline":"alphabetic","lineBreak":"\n","lineHeight":69,"clip":false},
 "encoding":{
  "x":{"field":"x","type":"quantitative","axis":null},"y":{"field":"y","type":"quantitative","axis":null},
  "text":{"field":"label"},
  "color":{"field":"c","type":"nominal","legend":null}}}
],
"resolve":{"axis":{"x":"independent","y":"independent"}}
}
